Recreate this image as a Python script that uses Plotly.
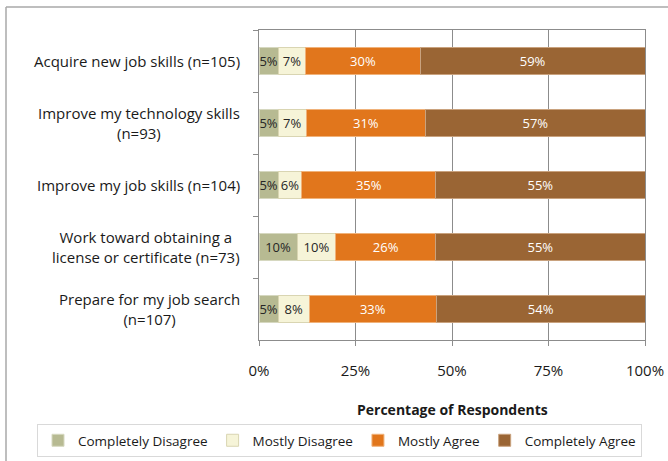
import plotly.graph_objects as go

categories = [
    "Acquire new job skills (n=105)",
    "Improve my technology skills<br>(n=93)",
    "Improve my job skills (n=104)",
    "Work toward obtaining a<br>license or certificate (n=73)",
    "Prepare for my job search<br>(n=107)",
]
cat_ids = ["c1", "c2", "c3", "c4", "c5"]

series_names = ["Completely Disagree", "Mostly Disagree", "Mostly Agree", "Completely Agree"]
completely_disagree = [5.0, 5.0, 5.0, 9.9, 5.0]
mostly_disagree = [7.1, 7.2, 6.1, 10.0, 8.0]
mostly_agree = [29.7, 31.0, 34.7, 25.9, 33.0]
completely_agree = [58.2, 56.8, 54.2, 54.2, 54.0]

cd_labels = ["5%", "5%", "5%", "10%", "5%"]
md_labels = ["7%", "7%", "6%", "10%", "8%"]
ma_labels = ["30%", "31%", "35%", "26%", "33%"]
ca_labels = ["59%", "57%", "55%", "55%", "54%"]

x_ticks = [0, 25, 50, 75, 100]
x_ticktext = ["0%", "25%", "50%", "75%", "100%"]

colors = ["#B7BA92", "#F6F4D8", "#E1761C", "#9A6534"]
line_colors = ["#D6D8C0", "#D9D5B2", "#F0B27A", "#C9A27E"]
text_colors = ["#262626", "#262626", "#FFFFFF", "#FFFFFF"]

FONT = "Open Sans"
W, H = 668, 461
L, R, T, B = 259, 23, 30, 121
PH = H - T - B
PW = W - L - R

fig = go.Figure()
for name, vals, labels, c, lc, tc in zip(
    series_names,
    [completely_disagree, mostly_disagree, mostly_agree, completely_agree],
    [cd_labels, md_labels, ma_labels, ca_labels],
    colors, line_colors, text_colors,
):
    fig.add_trace(go.Bar(
        name=name, y=cat_ids, x=vals, orientation="h",
        text=labels, textposition="inside", insidetextanchor="middle",
        constraintext="none", textangle=0,
        textfont=dict(family=FONT, size=13, color=tc),
        marker=dict(color=c, line=dict(color=lc, width=1)),
        width=0.42, hoverinfo="skip",
    ))

# category labels (centered multi-line, right aligned block)
for cid, lab in zip(cat_ids, categories):
    fig.add_annotation(
        x=-17 / PW, xref="paper", y=cid, yref="y", text=lab,
        showarrow=False, xanchor="right", yanchor="middle", align="center",
        font=dict(family=FONT, size=15, color="#1a1a1a"),
    )

fig.add_annotation(
    x=(452 - L) / PW, xref="paper", y=(H - B - 409) / PH, yref="paper",
    text="<b>Percentage of Respondents</b>", showarrow=False,
    xanchor="center", yanchor="middle",
    font=dict(family=FONT, size=14, color="#1a1a1a"),
)

# outer chart frame
fx = (6 - L) / PW
fy = (H - B - 7) / PH
fig.add_shape(type="line", xref="paper", yref="paper", x0=fx, x1=(W + 5 - L) / PW, y0=fy, y1=fy,
              line=dict(color="#A9A9A9", width=1.5))
fig.add_shape(type="line", xref="paper", yref="paper", x0=fx, x1=fx, y0=fy, y1=(H - B - H - 5) / PH,
              line=dict(color="#A9A9A9", width=1.5))

fig.update_layout(
    width=W, height=H,
    barmode="stack", bargap=0.58,
    margin=dict(l=L, r=R, t=T, b=B, autoexpand=False),
    paper_bgcolor="white", plot_bgcolor="white",
    font=dict(family=FONT, size=15, color="#1a1a1a"),
    showlegend=True,
    legend=dict(
        orientation="h", x=(37 - L) / PW, xanchor="left",
        y=(H - B - 424) / PH, yanchor="top",
        bordercolor="#D9D9D9", borderwidth=1,
        font=dict(family=FONT, size=13.5, color="#1a1a1a"),
        traceorder="normal", itemwidth=30,
    ),
    xaxis=dict(
        range=[0, 100], tickvals=x_ticks, ticktext=x_ticktext,
        showgrid=True, gridcolor="#8C8C8C", gridwidth=1,
        showline=True, linecolor="#8C8C8C", linewidth=1, mirror=True,
        ticks="outside", ticklen=5, tickcolor="#8C8C8C",
        ticklabelstandoff=12, zeroline=False, automargin=False,
        tickfont=dict(family=FONT, size=15, color="#1a1a1a"),
        fixedrange=True,
    ),
    yaxis=dict(
        type="category", categoryorder="array", categoryarray=cat_ids,
        autorange="reversed", showticklabels=False,
        showline=True, linecolor="#8C8C8C", linewidth=1, mirror=True,
        ticks="outside", ticklen=5, tickcolor="#8C8C8C", tickson="boundaries",
        showgrid=False, fixedrange=True, automargin=False,
    ),
)

fig.write_html(
    "out.html",
    config={"displayModeBar": False, "staticPlot": False},
    post_script="document.body.style.margin='0';document.body.style.overflow='hidden';",
)
